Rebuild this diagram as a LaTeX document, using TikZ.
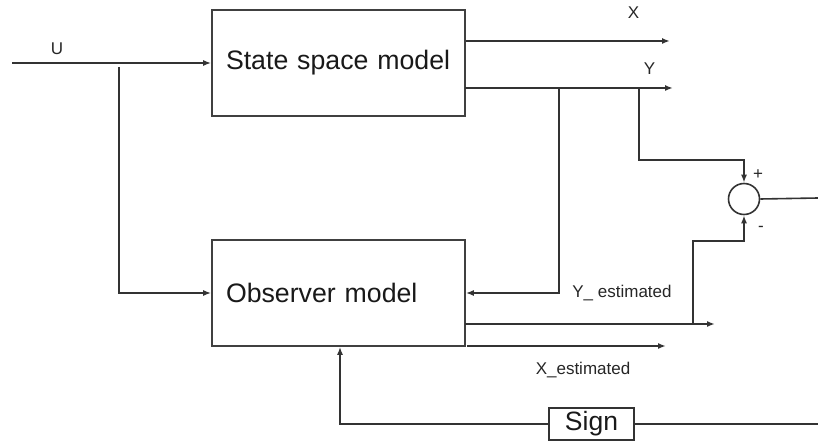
\documentclass[tikz,border=0pt]{standalone}
\usepackage{fontspec}
\setmainfont{Liberation Sans}
\usetikzlibrary{arrows.meta,calc}
\begin{document}
\begin{tikzpicture}[x=1pt,y=-1pt,
  wire/.style={draw=black!80,line width=1.6pt},
  arr/.style={wire,-{Latex[length=8pt,width=6pt]}},
  bigbox/.style={draw=black!75,line width=1.6pt,rectangle,minimum height=106pt,text width=225pt,inner xsep=14pt,inner ysep=0pt,align=left,font=\fontsize{26.7}{30}\selectfont,text=black!90},
  lbl/.style={font=\fontsize{17}{20}\selectfont,text=black!85,inner sep=0pt},
  sumnode/.style={draw=black!80,line width=1.6pt,circle,minimum size=31pt,inner sep=0pt},
  signbox/.style={draw=black!80,line width=1.6pt,rectangle,minimum width=85pt,minimum height=32pt,inner sep=0pt,font=\fontsize{26.5}{28}\selectfont,text=black!90}]
\useasboundingbox (0,0) rectangle (818,443);
% blocks
\node[bigbox] (ss) at (338.5,63) {State space model};
\node[bigbox] (obs) at (338.5,293) {Observer model};
\node[sumnode] (sum) at (744,199) {};
\node[signbox] (sign) at (591.5,424) {Sign};
% coordinates
\coordinate (uin) at (12,63);
\coordinate (ubr) at (119,67);
\coordinate (xend) at (670,41);
\coordinate (ystart) at (465,88);
\coordinate (yend) at (673,88);
\coordinate (yb1) at (559,88);
\coordinate (yb2) at (639,88);
\coordinate (yb2k) at (639,160);
\coordinate (oy) at (465,324);
\coordinate (oyend) at (715,324);
\coordinate (oyb) at (693,324);
\coordinate (oyk) at (693,241);
\coordinate (ox) at (467,346);
\coordinate (oxend) at (666,346);
\coordinate (sumout) at (818,198);
\coordinate (signout) at (818,424);
\coordinate (signk) at (340,424);
% connectors
\draw[arr] (uin) -- (ss.west);
\draw[arr] (ubr) -- (ubr |- obs.west) -- (obs.west);
\draw[arr] (ss.east |- xend) -- (xend);
\draw[arr] (ystart) -- (yend);
\draw[arr] (yb1) -- (yb1 |- obs.east) -- (obs.east);
\draw[arr] (yb2) -- (yb2k) -- (sum.north |- yb2k) -- (sum.north);
\draw[wire] (sum.east) -- (sumout);
\draw[arr] (oy) -- (oyend);
\draw[arr] (oyb) -- (oyk) -- (sum.south |- oyk) -- (sum.south);
\draw[arr] (ox) -- (oxend);
\draw[wire] (sign.east) -- (signout);
\draw[arr] (sign.west) -- (signk) -- (signk |- obs.south);
% labels
\node[lbl] (lu) at (57,49) {U};
\node[lbl] (lx) at (633.5,13) {X};
\node[lbl] (ly) at (649.5,69) {Y};
\node[lbl] (lp) at (758,175) {+};
\node[lbl] (lm) at (761,229) {-};
\node[lbl] (lye) at (622,293) {Y\_ estimated};
\node[lbl] (lxe) at (583,370) {X\_estimated};
\end{tikzpicture}
\end{document}
